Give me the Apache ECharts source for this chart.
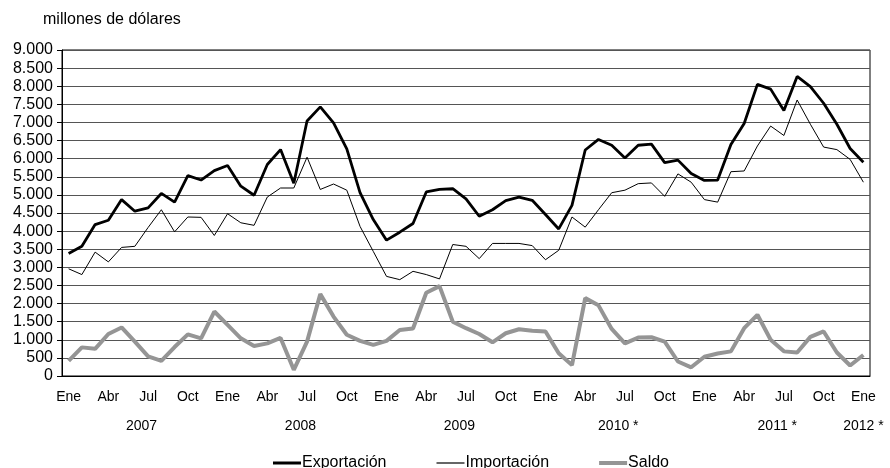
<!DOCTYPE html>
<html>
<head>
<meta charset="utf-8">
<script src="https://cdn.jsdelivr.net/npm/echarts@6/dist/echarts.min.js"></script>
<style>
html,body{margin:0;padding:0;background:#fff;}
#chart{width:890px;height:468px;}
</style>
</head>
<body>
<div id="chart"></div>
<script>
// ---- data ----
const monthNames = ['Ene','Feb','Mar','Abr','May','Jun','Jul','Ago','Sep','Oct','Nov','Dic'];
const years = [2007, 2008, 2009, 2010, 2011, 2012];
const yearLabels = ['2007', '2008', '2009', '2010 *', '2011 *', '2012 *'];
const monthsPerYear = [12, 12, 12, 12, 12, 1];

const exportacion = [3380,3580,4180,4300,4870,4550,4640,5040,4800,5530,
  5410,5670,5810,5240,4990,5840,6250,5320,7040,7430,
  6990,6270,5060,4320,3750,3970,4210,5080,5150,5170,
  4890,4410,4590,4840,4940,4850,4460,4060,4710,6240,
  6530,6370,6020,6370,6400,5890,5960,5590,5400,5410,
  6390,6970,8050,7920,7330,8270,7990,7530,6950,6280,
  5900];
const importacion = [2960,2800,3420,3150,3550,3580,4100,4590,3980,4390,
  4380,3880,4480,4230,4160,4940,5190,5190,6040,5150,
  5300,5130,4130,3440,2750,2660,2890,2800,2680,3630,
  3580,3240,3660,3660,3660,3600,3210,3470,4390,4110,
  4590,5060,5130,5310,5330,4960,5580,5350,4870,4800,
  5640,5660,6350,6900,6640,7620,6950,6320,6250,5980,
  5350];
const saldo = [420,790,750,1160,1340,950,540,420,800,1150,
  1040,1780,1410,1040,830,900,1050,170,950,2260,
  1640,1140,970,860,970,1270,1310,2300,2480,1500,
  1320,1160,930,1180,1290,1250,1230,630,300,2150,
  1950,1300,900,1060,1070,950,400,240,530,620,
  680,1320,1690,1000,680,650,1080,1230,650,290,
  580];

// ---- categories ----
const categories = [];
years.forEach((y, k) => {
  for (let m = 0; m < monthsPerYear[k]; m++) categories.push(monthNames[m] + ' ' + y);
});
// half-month boundary axis for centered year labels
const yearAxisData = new Array(categories.length * 2 + 1).fill('');
let start = 0;
years.forEach((y, k) => {
  const mid = start + (monthsPerYear[k] - 1) / 2;
  yearAxisData[Math.round(2 * mid + 1)] = yearLabels[k];
  start += monthsPerYear[k];
});

const FONT = '"Liberation Sans", Arial, sans-serif';
const chart = echarts.init(document.getElementById('chart'), null, {renderer: 'canvas'});
chart.setOption({
  animation: false,
  backgroundColor: '#fff',
  textStyle: {fontFamily: FONT, color: '#000'},
  title: {
    text: 'millones de dólares',
    left: 38, top: 7,
    textStyle: {fontFamily: FONT, fontSize: 16, fontWeight: 'normal', color: '#000'}
  },
  grid: {
    left: 62, right: 20, top: 50, bottom: 92,
    show: true, borderColor: '#000', borderWidth: 1, backgroundColor: 'transparent'
  },
  legend: {
    left: 268, top: 450,
    itemWidth: 28, itemHeight: 14, itemGap: 50,
    textStyle: {fontFamily: FONT, fontSize: 16, color: '#000', padding: [0, 0, 0, -4]},
    data: [
      {name: 'Exportación', icon: 'path://M0,0L28,0L28,3L0,3Z'},
      {name: 'Importación', icon: 'path://M0,0L28,0L28,1.2L0,1.2Z'},
      {name: 'Saldo', icon: 'path://M0,0L28,0L28,4L0,4Z'}
    ]
  },
  xAxis: [{
    type: 'category',
    data: categories,
    boundaryGap: true,
    axisLine: {show: true, lineStyle: {color: '#000', width: 1}},
    axisTick: {show: false},
    axisLabel: {
      interval: 2, margin: 14, fontSize: 14, color: '#000', fontFamily: FONT,
      formatter: v => v.split(' ')[0]
    },
    splitLine: {show: false}
  }, {
    type: 'category',
    data: yearAxisData,
    boundaryGap: false,
    position: 'bottom',
    offset: 0,
    axisLine: {show: false},
    axisTick: {show: false},
    axisLabel: {interval: 0, margin: 43, fontSize: 14, color: '#000', fontFamily: FONT},
    splitLine: {show: false}
  }],
  yAxis: {
    type: 'value',
    min: 0, max: 9000, interval: 500,
    axisLine: {show: true, lineStyle: {color: '#000', width: 1}},
    axisTick: {show: true, length: 5, lineStyle: {color: '#000'}},
    axisLabel: {
      fontSize: 16, color: '#000', margin: 9, fontFamily: FONT,
      formatter: v => v >= 1000 ? Math.floor(v / 1000) + '.' + String(v % 1000).padStart(3, '0') : String(v)
    },
    splitLine: {show: true, lineStyle: {color: '#555', width: 1}}
  },
  series: [{
    name: 'Exportación', type: 'line', data: exportacion,
    symbol: 'none', smooth: false, z: 4,
    lineStyle: {color: '#000', width: 2.8},
    itemStyle: {color: '#000'}
  }, {
    name: 'Importación', type: 'line', data: importacion,
    symbol: 'none', smooth: false, z: 3,
    lineStyle: {color: '#000', width: 1},
    itemStyle: {color: '#000'}
  }, {
    name: 'Saldo', type: 'line', data: saldo,
    symbol: 'none', smooth: false, z: 2,
    lineStyle: {color: '#959595', width: 4},
    itemStyle: {color: '#959595'}
  }]
});
</script>
</body>
</html>
